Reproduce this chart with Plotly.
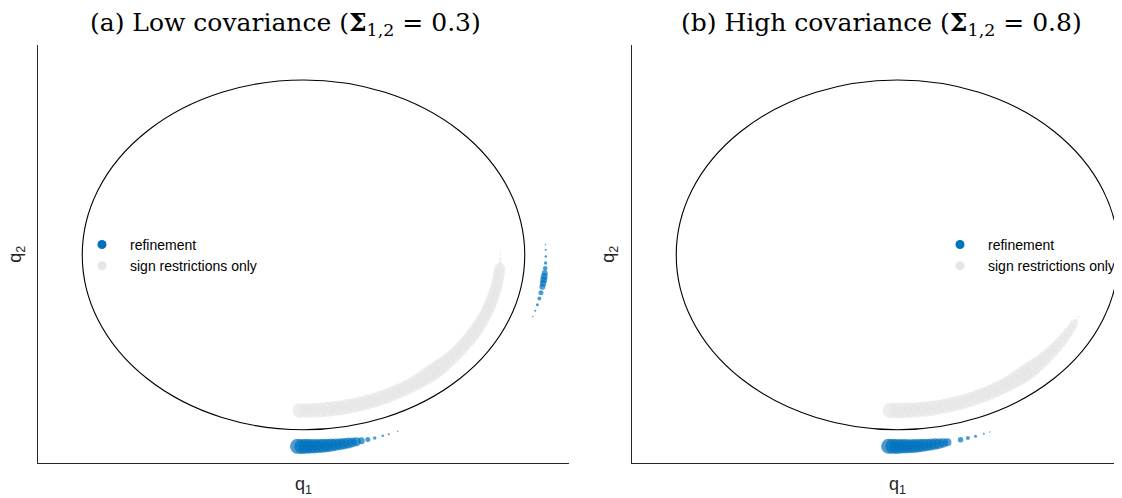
import numpy as np
import plotly.graph_objects as go

BLUE = '#0072BD'
GREY = '#E6E6E6'

# rotation angle theta (deg) of q = (cos theta, sin theta); marker size = weight
grey_a_theta = [-91, -89, -87, -85, -83, -81, -79, -77, -75, -73, -71, -69, -67, -65,
                -63, -61, -59, -57, -55, -53, -51, -49, -47, -45, -43, -41, -39, -37,
                -35, -33, -31, -29, -27, -25, -23, -21, -19, -17, -15, -13, -11, -9,
                -7, -5, -3, -1.5, 0, 1]
grey_a_size = [15, 15, 15, 15, 15, 15, 15, 15, 15, 15, 15, 15, 15, 15,
               15, 15, 15, 15, 15.5, 16, 17, 17, 17, 16, 15, 14.5, 14, 14,
               14, 14, 14, 14, 13.5, 13.5, 13, 13, 13, 13, 12.5, 12.5, 12, 12,
               12, 11, 4, 2.5, 2, 1.5]

blue_a_theta = [-91.4, -90.4, -89.4, -88.4, -87.4, -86.4, -85.4, -84.4, -83.4, -82.4,
                -81.4, -80.4, -79.4, -78.4, -77.4, -76.2, -74.6, -72.9, -70.9, -69.4, -67.1,
                3.0, 1.5, -0.5, -2.4, -4.0, -5.4, -6.5, -7.5, -8.5, -9.6, -11.4, -13.2,
                -15.1, -17.0, -18.8]
blue_a_size = [15, 15, 15, 14.5, 14.5, 14, 14, 13.5, 13, 12.5,
               12, 11.5, 11, 10, 9, 7, 5, 3.5, 2.5, 2, 1.5,
               1.5, 2, 2.5, 3.5, 4.5, 6, 7, 7, 6.5, 6, 5, 4,
               3, 2, 1.5]

grey_b_theta = [-92, -90, -88, -86, -84, -82, -80, -78, -76, -74, -72, -70, -68, -66,
                -64, -62, -60, -58, -56, -54, -52, -50, -48, -46, -44, -42, -40, -38,
                -36, -34, -32, -30, -28, -26.5, -25, -23.5]
grey_b_size = [16, 16, 16, 16, 15.5, 15.5, 15.5, 15, 15, 15, 15, 15, 15, 15,
               15, 15, 15, 15, 15.5, 16, 17, 17, 17, 16, 14.5, 14, 13, 12.5,
               12, 11.5, 11, 10, 9, 8, 4, 2]

blue_b_theta = [-92.1, -91.1, -90.1, -89.1, -88.1, -87.1, -86.1, -85.1, -84.1, -83.1,
                -82.1, -81.1, -80.1, -79.1, -78.1, -74.9, -73.1, -71.2, -69.1, -67.6]
blue_b_size = [15, 15, 15, 14.5, 14.5, 14, 14, 13.5, 13, 12.5,
               12, 11.5, 10.5, 9.5, 8, 5.5, 4, 3, 2, 1.5]

R_GREY = 0.89  # plotted radius of the sign-restriction draws
R_BLUE = 1.095  # refinement draws are drawn just outside the unit circle


def to_q(theta, r):
    t = np.deg2rad(np.array(theta))
    return r * np.cos(t), r * np.sin(t)


fig = go.Figure()


def add_panel(fig, grey_theta, grey_size, blue_theta, blue_size, xa, ya):
    gx, gy = to_q(grey_theta, R_GREY)
    bx, by = to_q(blue_theta, R_BLUE)
    fig.add_trace(go.Scatter(x=gx, y=gy, mode='markers', xaxis=xa, yaxis=ya,
                             marker=dict(color=GREY, size=grey_size, line_width=0),
                             showlegend=False, hoverinfo='skip'))
    fig.add_trace(go.Scatter(x=bx, y=by, mode='markers', xaxis=xa, yaxis=ya,
                             marker=dict(color=BLUE, size=blue_size, line_width=0),
                             showlegend=False, hoverinfo='skip'))
    leg = 'legend' if xa == 'x' else 'legend2'
    fig.add_trace(go.Scatter(x=[None], y=[None], mode='markers', xaxis=xa, yaxis=ya,
                             name='refinement', legend=leg,
                             marker=dict(color=BLUE, size=9)))
    fig.add_trace(go.Scatter(x=[None], y=[None], mode='markers', xaxis=xa, yaxis=ya,
                             name='sign restrictions only', legend=leg,
                             marker=dict(color=GREY, size=9)))
    fig.add_shape(type='circle', xref=xa, yref=ya, x0=-1, x1=1, y0=-1, y1=1,
                  line=dict(color='black', width=1.1))


add_panel(fig, grey_a_theta, grey_a_size, blue_a_theta, blue_a_size, 'x', 'y')
add_panel(fig, grey_b_theta, grey_b_size, blue_b_theta, blue_b_size, 'x2', 'y2')

# page body has an 8px margin, so the figure is laid out in page pixels minus 8
OFF = 8
W, H = 1122 - OFF, 498 - OFF
axis_style = dict(showline=True, linecolor='#262626', linewidth=1, showgrid=False,
                  zeroline=False, showticklabels=False, ticks='', mirror=False)
leg_font = dict(family='Liberation Sans', size=14, color='#000')

fig.update_layout(
    width=W, height=H,
    margin=dict(l=0, r=0, t=45 - OFF, b=35),
    plot_bgcolor='white', paper_bgcolor='white',
    xaxis=dict(domain=[(38 - OFF) / W, (569 - OFF) / W], range=[-1.2, 1.2], **axis_style),
    yaxis=dict(domain=[0, 1], range=[-1.19, 1.2], **axis_style),
    xaxis2=dict(domain=[(632 - OFF) / W, 1.0], range=[-1.2, 1.015], anchor='y2', **axis_style),
    yaxis2=dict(domain=[0, 1], range=[-1.19, 1.2], anchor='x2', **axis_style),
    legend=dict(x=(74 - OFF) / W, y=0.56, xanchor='left', yanchor='top', itemwidth=46,
                bgcolor='rgba(0,0,0,0)', font=leg_font, tracegroupgap=0),
    legend2=dict(x=(932 - OFF) / W, y=0.56, xanchor='left', yanchor='top', itemwidth=46,
                 bgcolor='rgba(0,0,0,0)', font=leg_font, tracegroupgap=0),
)

title_font = dict(family='DejaVu Serif', size=25, color='black')
fig.add_annotation(text='(a) Low covariance (<b>Σ</b><sub>1,2</sub> = 0.3)',
                   xref='paper', yref='paper', x=(285 - OFF) / W, y=1, yshift=21,
                   showarrow=False, font=title_font, xanchor='center', yanchor='middle')
fig.add_annotation(text='(b) High covariance (<b>Σ</b><sub>1,2</sub> = 0.8)',
                   xref='paper', yref='paper', x=(881 - OFF) / W, y=1, yshift=21,
                   showarrow=False, font=title_font, xanchor='center', yanchor='middle')

lab_font = dict(family='Liberation Sans', size=18, color='#262626')
for xa, ya, xpix in [('x', 'y', 17), ('x2', 'y2', 610)]:
    fig.add_annotation(text='q<sub>1</sub>', xref=xa, yref='paper', x=0, y=0, yshift=-22,
                       showarrow=False, font=lab_font, xanchor='center', yanchor='middle')
    fig.add_annotation(text='q<sub>2</sub>', xref='paper', yref=ya, x=(xpix - OFF) / W, y=0,
                       showarrow=False, font=lab_font, textangle=-90,
                       xanchor='center', yanchor='middle')

fig.write_html('out.html')
